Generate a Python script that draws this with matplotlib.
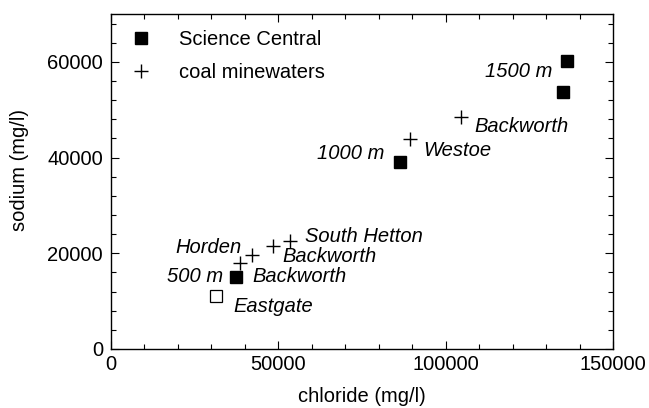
import matplotlib
matplotlib.use("Agg")
import matplotlib.pyplot as plt
from matplotlib.ticker import MultipleLocator

plt.rcParams['font.family'] = ['Liberation Sans', 'DejaVu Sans']

# Science Central (filled squares)
sc_chloride = [136300, 135000, 86300, 37300]
sc_sodium = [60200, 53800, 39100, 15000]

# Eastgate (open square)
eg_chloride = [31300]
eg_sodium = [11100]

# coal minewaters (plus)
cm_chloride = [104700, 89300, 53400, 48400, 42000, 38500]
cm_sodium = [48400, 43800, 22600, 21500, 19600, 18000]

x_ticks = [0, 50000, 100000, 150000]
y_ticks = [0, 20000, 40000, 60000]

FS = 14.5
PX = 0.72  # px -> points

fig = plt.figure(figsize=(6.49, 4.08), dpi=100)
ax = fig.add_axes([111/649, 1-349/408, (613-111)/649, (349-14)/408])

sc_line, = ax.plot(sc_chloride, sc_sodium, ls='none', marker='s', ms=9,
                   mfc='black', mec='black', label='Science Central')
ax.plot(eg_chloride, eg_sodium, ls='none', marker='s', ms=8.5,
        mfc='white', mec='black', mew=0.9)
cm_line, = ax.plot(cm_chloride, cm_sodium, ls='none', marker='+', ms=10.5,
                   mew=1.0, color='black', label='coal minewaters')

def lab(text, x, y, dx, dy, ha):
    ax.annotate(text, (x, y), xytext=(dx*PX, -dy*PX), textcoords='offset points',
                ha=ha, va='baseline', fontsize=FS, style='italic')

lab("1500 m", sc_chloride[0], sc_sodium[0], -14.7, 16, 'right')
lab("1000 m", sc_chloride[2], sc_sodium[2], -15, -2.7, 'right')
lab("500 m", sc_chloride[3], sc_sodium[3], -13, 4.7, 'right')
lab("Backworth", sc_chloride[3], sc_sodium[3], 17, 4.7, 'left')
lab("Eastgate", eg_chloride[0], eg_sodium[0], 18, 16, 'left')
lab("Backworth", cm_chloride[0], cm_sodium[0], 13.3, 14.7, 'left')
lab("Westoe", cm_chloride[1], cm_sodium[1], 13, 16.7, 'left')
lab("South Hetton", cm_chloride[2], cm_sodium[2], 15, 1.3, 'left')
lab("Backworth", cm_chloride[3], cm_sodium[3], 9.7, 16, 'left')
lab("Horden", cm_chloride[5], cm_sodium[5], 2, -9.7, 'right')

ax.set_xlim(0, 150000)
ax.set_ylim(0, 70000)
ax.set_xticks(x_ticks)
ax.set_yticks(y_ticks)
ax.set_xticklabels([str(v) for v in x_ticks])
ax.set_yticklabels([str(v) for v in y_ticks])
ax.xaxis.set_minor_locator(MultipleLocator(10000))
ax.yaxis.set_minor_locator(MultipleLocator(4000))
ax.tick_params(which='both', direction='in', top=True, right=True,
               width=0.8, labelsize=FS)
ax.tick_params(which='major', length=5.5)
ax.tick_params(which='minor', length=3.6)
ax.tick_params(axis='y', which='major', pad=5.8)
ax.tick_params(axis='x', which='major', pad=4)
for s in ax.spines.values():
    s.set_linewidth(1.0)

ax.set_xlabel("chloride (mg/l)", fontsize=FS)
ax.set_ylabel("sodium (mg/l)", fontsize=FS)
ax.xaxis.set_label_coords(0.5, -0.113)
ax.yaxis.set_label_coords(-0.163, 0.534)

ax.legend(handles=[sc_line, cm_line], loc='upper left',
          bbox_to_anchor=(0.0398, 0.951), frameon=False, fontsize=FS,
          handlelength=1.0, handletextpad=1.39, labelspacing=0.67,
          borderpad=0, borderaxespad=0, numpoints=1)

fig.savefig("out.png", dpi=100)
